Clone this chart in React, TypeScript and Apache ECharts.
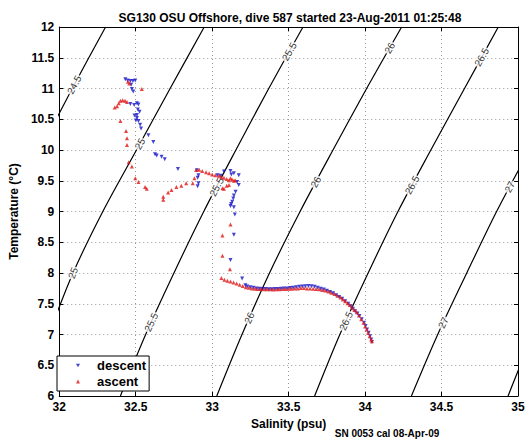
import React, { useEffect, useRef } from 'react';
import * as echarts from 'echarts';

const titleText = 'SG130 OSU Offshore, dive 587 started 23-Aug-2011 01:25:48';
const footerText = 'SN 0053 cal 08-Apr-09';
const xName = 'Salinity (psu)';
const yName = 'Temperature (°C)';
const seriesNames = ['descent', 'ascent'];

// density (sigma-theta) contours: salinity at each temperature level
const contourTemps = [6, 7, 8, 9, 10, 11, 12];
const contourLevels = ['24.5', '25', '25.5', '26', '26.5', '27', '27.5'];
const sigma245S = [null, null, null, 31.66, 31.875, 32.085, 32.303];
const sigma25S = [31.77, 31.93, 32.09, 32.285, 32.505, 32.725, 32.948];
const sigma255S = [32.4, 32.565, 32.75, 32.945, 33.155, 33.37, 33.594];
const sigma26S = [33.03, 33.195, 33.375, 33.575, 33.79, 34.01, 34.239];
const sigma265S = [33.67, 33.835, 34.02, 34.215, 34.43, 34.65, 34.871];
const sigma27S = [34.303, 34.475, 34.665, 34.86, 35.075, 35.3, 35.52];
const sigma275S = [34.935, 35.1, 35.29, null, null, null, null];
const contourS = [sigma245S, sigma25S, sigma255S, sigma26S, sigma265S, sigma27S, sigma275S];

// contour label placement (level, temperature)
const labelLevels = ['24.5', '25', '25', '25.5', '25.5', '25.5', '26', '26', '26', '26.5', '26.5', '26.5', '27', '27'];
const labelTemps = [11.06, 10.1, 8.0, 11.6, 9.4, 7.2, 11.66, 9.48, 7.27, 11.51, 9.43, 7.22, 9.4, 7.19];

// descent profile (surface -> depth)
const descentS = [
  32.432, 32.447, 32.465, 32.482, 32.497, 32.47, 32.475, 32.484,
  32.465, 32.49, 32.508, 32.518, 32.514, 32.525, 32.508, 32.492, 32.508, 32.501, 32.518, 32.529, 32.535,
  32.583, 32.615, 32.626, 32.637, 32.669, 32.69, 32.776,
  32.9, 32.91, 32.905, 32.91, 32.905,
  33.034, 33.055, 33.077, 33.12, 33.125, 33.142, 33.174, 33.163, 33.174,
  33.153, 33.142, 33.138, 33.131, 33.124, 33.12, 33.142, 33.148,
  33.142, 33.12, 33.196, 33.217,
  33.23, 33.25, 33.27, 33.29, 33.31, 33.33, 33.35, 33.37, 33.39, 33.41, 33.43, 33.45, 33.47, 33.49,
  33.51, 33.53, 33.55, 33.57, 33.59, 33.61, 33.63, 33.65, 33.67, 33.69, 33.71, 33.73, 33.75, 33.77,
  33.79, 33.81, 33.83, 33.85, 33.87, 33.89, 33.905, 33.92, 33.935, 33.95, 33.963, 33.978, 33.993,
  34.003, 34.013, 34.023, 34.032, 34.04, 34.045,
];
const descentT = [
  11.15, 11.13, 11.12, 11.12, 11.13, 11.06, 10.99, 10.95,
  10.75, 10.73, 10.76, 10.74, 10.66, 10.62, 10.57, 10.56, 10.52, 10.48, 10.47, 10.41, 10.35,
  10.24, 10.13, 9.93, 9.91, 9.89, 9.85, 9.69,
  9.67, 9.59, 9.55, 9.46, 9.41,
  9.59, 9.58, 9.65, 9.66, 9.6, 9.62, 9.59, 9.48, 9.43,
  9.32, 9.26, 9.21, 9.16, 9.12, 9.09, 9.07, 8.95,
  8.62, 8.21, 7.91, 7.8,
  7.78, 7.77, 7.76, 7.75, 7.745, 7.74, 7.74, 7.735, 7.735, 7.74, 7.74, 7.745, 7.75, 7.75,
  7.755, 7.76, 7.77, 7.775, 7.78, 7.785, 7.79, 7.785, 7.775, 7.76, 7.745, 7.73, 7.71, 7.69,
  7.67, 7.64, 7.61, 7.58, 7.54, 7.5, 7.46, 7.42, 7.38, 7.34, 7.3, 7.25, 7.19,
  7.14, 7.08, 7.03, 6.97, 6.92, 6.88,
];

// ascent profile (depth -> surface)
const ascentS = [
  34.045, 34.04, 34.03, 34.02, 34.01, 34.0, 33.99, 33.975, 33.96, 33.945, 33.93, 33.915, 33.9, 33.885,
  33.87, 33.855, 33.84, 33.82, 33.8, 33.78, 33.76, 33.74, 33.72, 33.7, 33.68, 33.66, 33.64, 33.62,
  33.6, 33.58, 33.56, 33.54, 33.52, 33.5, 33.48, 33.46, 33.44, 33.42, 33.4, 33.38, 33.36, 33.34,
  33.32, 33.3, 33.28, 33.26, 33.24, 33.22, 33.2, 33.18, 33.16, 33.14, 33.12, 33.1, 33.08, 33.06,
  33.116, 33.067, 33.067, 33.12,
  33.067, 33.077, 33.095, 33.11,
  33.15, 33.142, 33.13, 33.11, 33.12, 33.095, 33.077, 33.06, 33.045, 33.02, 33.0, 32.98, 32.96,
  32.935, 32.915, 32.895,
  32.884, 32.873, 32.83, 32.798, 32.766, 32.734, 32.712, 32.68, 32.68,
  32.561, 32.572, 32.518, 32.497, 32.475, 32.454,
  32.443, 32.443, 32.437, 32.4, 32.363, 32.378, 32.389, 32.4, 32.415, 32.43, 32.443,
  32.54, 32.458, 32.449,
];
const ascentT = [
  6.89, 6.92, 6.97, 7.03, 7.08, 7.13, 7.19, 7.25, 7.31, 7.36, 7.4, 7.44, 7.48, 7.51,
  7.54, 7.57, 7.6, 7.63, 7.66, 7.68, 7.7, 7.715, 7.725, 7.735, 7.74, 7.745, 7.75, 7.75,
  7.755, 7.755, 7.75, 7.75, 7.745, 7.745, 7.74, 7.74, 7.735, 7.735, 7.73, 7.735, 7.735, 7.735,
  7.74, 7.74, 7.745, 7.75, 7.76, 7.77, 7.79, 7.81, 7.83, 7.845, 7.86, 7.875, 7.89, 7.92,
  8.06, 8.28, 8.61, 8.79,
  9.38, 9.37, 9.42, 9.43,
  9.51, 9.5, 9.52, 9.51, 9.54, 9.53, 9.55, 9.56, 9.58, 9.59, 9.6, 9.62, 9.64,
  9.66, 9.68, 9.675,
  9.54, 9.46, 9.46, 9.42, 9.4, 9.35, 9.31, 9.24, 9.19,
  9.4, 9.37, 9.48, 9.54, 9.73, 9.8,
  10.08, 10.19, 10.31, 10.47, 10.69, 10.71, 10.76, 10.8, 10.81, 10.8, 10.78,
  10.99, 11.08, 11.11,
];

const GRID = { left: 53, right: 12, top: 27, bottom: 46 };
const W = 530;
const H = 442;
const X_MIN = 32, X_MAX = 35, Y_MIN = 6, Y_MAX = 12;
const FONT = '"Liberation Sans", Arial, Helvetica, sans-serif';
const DOWN_TRIANGLE = 'path://M0,0L10,0L5,9Z';

function buildOption() {
  const pxPerS = (W - GRID.left - GRID.right) / (X_MAX - X_MIN);
  const pxPerT = (H - GRID.top - GRID.bottom) / (Y_MAX - Y_MIN);

  const contourSeries = contourLevels.map((lev, k) => ({
    name: 'sigma' + lev,
    type: 'line',
    data: contourTemps.map((t, i) => (contourS[k][i] == null ? null : [contourS[k][i], t])).filter((d) => d !== null),
    smooth: 0.3,
    showSymbol: false,
    symbol: 'none',
    clip: true,
    silent: true,
    z: 2,
    lineStyle: { color: '#000', width: 1.2 },
  }));

  const labelData = labelLevels.map((lev, i) => {
    const arr = contourS[contourLevels.indexOf(lev)] as (number | null)[];
    const t = labelTemps[i];
    let j = 0;
    while (j < contourTemps.length - 2 && t > contourTemps[j + 1]) j++;
    const s0 = arr[j] as number;
    const s1 = arr[j + 1] as number;
    const dSdT = s1 - s0;
    const s = s0 + (t - contourTemps[j]) * dSdT;
    const angle = (Math.atan2(pxPerT, dSdT * pxPerS) * 180) / Math.PI;
    return { value: [s, t, lev], label: { rotate: angle } };
  });

  const axisCommon = {
    type: 'value',
    axisLine: { show: true, onZero: false, lineStyle: { color: '#000', width: 1 } },
    axisTick: { show: true, inside: true, length: 4, lineStyle: { color: '#000' } },
  };

  return {
    animation: false,
    backgroundColor: '#fff',
    title: {
      text: titleText,
      left: 285,
      textAlign: 'center',
      top: 7,
      textStyle: { fontSize: 12, fontWeight: 'bold', fontFamily: FONT, color: '#000' },
    },
    grid: { ...GRID, containLabel: false },
    legend: {
      data: [
        { name: seriesNames[0], icon: DOWN_TRIANGLE },
        { name: seriesNames[1], icon: 'triangle' },
      ],
      orient: 'vertical',
      left: 57,
      top: 356,
      padding: [3, 3, 3, 19],
      itemGap: 3,
      itemWidth: 4,
      itemHeight: 4,
      borderColor: '#000',
      borderWidth: 1,
      borderRadius: 0,
      backgroundColor: '#fff',
      z: 10,
      selectedMode: false,
      textStyle: { fontSize: 13, fontWeight: 'bold', fontFamily: FONT, color: '#000', padding: [0, 0, 0, 12] },
    },
    xAxis: [
      {
        ...axisCommon,
        min: X_MIN,
        max: X_MAX,
        interval: 0.5,
        position: 'bottom',
        name: xName,
        nameLocation: 'middle',
        nameGap: 19,
        nameTextStyle: { fontSize: 12, fontWeight: 'bold', fontFamily: FONT, color: '#000' },
        axisLabel: { margin: 5, fontSize: 12, fontWeight: 'bold', fontFamily: FONT, color: '#000' },
        splitLine: { show: true, lineStyle: { color: '#999', type: [1, 3], width: 1 } },
      },
      {
        ...axisCommon,
        min: X_MIN,
        max: X_MAX,
        interval: 0.5,
        position: 'top',
        axisLabel: { show: false },
        splitLine: { show: false },
      },
    ],
    yAxis: [
      {
        ...axisCommon,
        min: Y_MIN,
        max: Y_MAX,
        interval: 0.5,
        position: 'left',
        name: yName,
        nameLocation: 'middle',
        nameRotate: 90,
        nameGap: 35,
        nameTextStyle: { fontSize: 12, fontWeight: 'bold', fontFamily: FONT, color: '#000' },
        axisLabel: { margin: 5, fontSize: 12, fontWeight: 'bold', fontFamily: FONT, color: '#000' },
        splitLine: { show: true, lineStyle: { color: '#999', type: [1, 3], width: 1 } },
      },
      {
        ...axisCommon,
        min: Y_MIN,
        max: Y_MAX,
        interval: 0.5,
        position: 'right',
        axisLabel: { show: false },
        splitLine: { show: false },
      },
    ],
    graphic: [
      {
        type: 'text',
        x: 387,
        y: 433,
        style: {
          text: footerText,
          align: 'center',
          verticalAlign: 'middle',
          fontSize: 10,
          fontWeight: 'bold',
          fontFamily: FONT,
          fill: '#000',
        },
      },
    ],
    series: [
      ...contourSeries,
      {
        name: 'contourLabels',
        type: 'scatter',
        data: labelData,
        symbolSize: 1,
        itemStyle: { color: 'rgba(0,0,0,0)' },
        silent: true,
        z: 3,
        label: {
          show: true,
          position: 'inside',
          formatter: (p: any) => p.value[2],
          fontSize: 10,
          fontFamily: FONT,
          color: '#000',
          backgroundColor: '#fff',
          padding: [0, 1],
        },
      },
      {
        name: seriesNames[0],
        type: 'scatter',
        data: descentS.map((s, i) => [s, descentT[i]]),
        symbol: 'triangle',
        symbolRotate: 180,
        symbolSize: 4,
        itemStyle: { color: '#1414c8' },
        z: 4,
      },
      {
        name: seriesNames[1],
        type: 'scatter',
        data: ascentS.map((s, i) => [s, ascentT[i]]),
        symbol: 'triangle',
        symbolSize: 4,
        itemStyle: { color: '#e01414' },
        z: 5,
      },
    ],
  };
}

export default function App() {
  const ref = useRef<HTMLDivElement>(null);
  useEffect(() => {
    if (!ref.current) return;
    const chart = echarts.init(ref.current, undefined, { renderer: 'svg' });
    chart.setOption(buildOption() as any);
    return () => chart.dispose();
  }, []);
  return (
    <div
      ref={ref}
      style={{ position: 'fixed', left: 0, top: 0, width: W, height: H, background: '#fff' }}
    />
  );
}
